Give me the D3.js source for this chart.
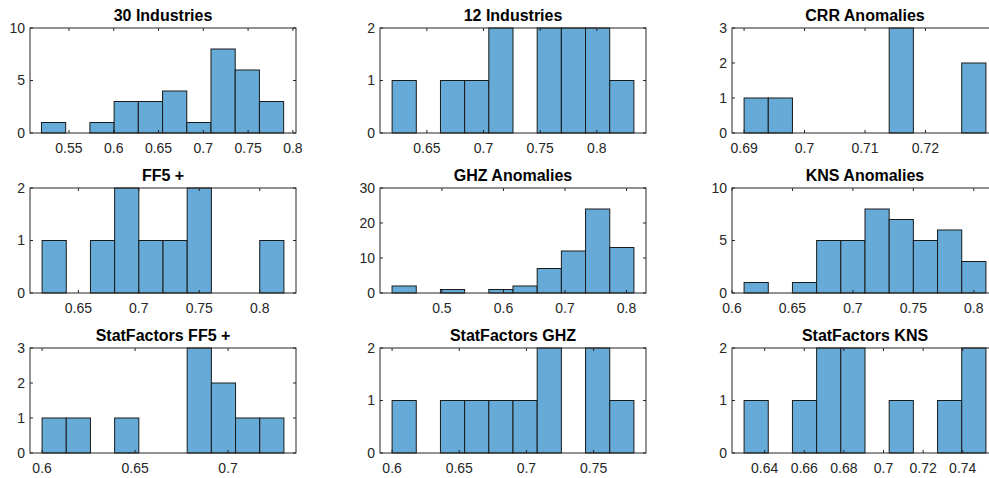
<!DOCTYPE html>
<html>
<head>
<meta charset="utf-8">
<script src="https://cdn.jsdelivr.net/npm/d3@7"></script>
<style>
  body { margin: 0; background: #fff; }
  svg { display: block; }
</style>
</head>
<body>
<script>
// panel data, row by row
var titles = ["30 Industries", "12 Industries", "CRR Anomalies",
              "FF5 +", "GHZ Anomalies", "KNS Anomalies",
              "StatFactors FF5 +", "StatFactors GHZ", "StatFactors KNS"];

// first bin edge and bin width of each histogram
var binStarts = [0.5193, 0.6193, 0.690, 0.62, 0.419, 0.61, 0.60, 0.60, 0.6296];
var binWidths = [0.02704, 0.02134, 0.004, 0.02, 0.0393, 0.02, 0.013, 0.018, 0.01221];

var counts = [
    [1, 0, 1, 3, 3, 4, 1, 8, 6, 3],
    [1, 0, 1, 1, 2, 0, 2, 2, 2, 1],
    [1, 1, 0, 0, 0, 0, 3, 0, 0, 2],
    [1, 0, 1, 2, 1, 1, 2, 0, 0, 1],
    [2, 0, 1, 0, 1, 2, 7, 12, 24, 13],
    [1, 0, 1, 5, 5, 8, 7, 5, 6, 3],
    [1, 1, 0, 1, 0, 0, 3, 2, 1, 1],
    [1, 0, 1, 1, 1, 1, 2, 0, 2, 1],
    [1, 0, 1, 2, 2, 0, 1, 0, 1, 2]
];

var xLimits = [[0.5065, 0.8035], [0.6086, 0.8434], [0.688, 0.732],
               [0.61, 0.83], [0.3994, 0.8316], [0.60, 0.82],
               [0.5935, 0.7365], [0.591, 0.789], [0.6235, 0.7578]];

var xTickVals = [[0.55, 0.6, 0.65, 0.7, 0.75, 0.8],
                 [0.65, 0.7, 0.75, 0.8],
                 [0.69, 0.7, 0.71, 0.72],
                 [0.65, 0.7, 0.75, 0.8],
                 [0.5, 0.6, 0.7, 0.8],
                 [0.6, 0.65, 0.7, 0.75, 0.8],
                 [0.6, 0.65, 0.7],
                 [0.6, 0.65, 0.7, 0.75],
                 [0.64, 0.66, 0.68, 0.7, 0.72, 0.74]];

var yTickVals = [[0, 5, 10], [0, 1, 2], [0, 1, 2, 3],
                 [0, 1, 2], [0, 10, 20, 30], [0, 5, 10],
                 [0, 1, 2, 3], [0, 1, 2], [0, 1, 2]];

// figure layout
var W = 989, H = 478;
var colLeft = [30, 380, 732], rowTop = [28, 188, 348];
var pw = 266, ph = 105;
var axisColor = "#262626", barFill = "#66aad7", tickLen = 3;

var svg = d3.select("body").append("svg")
    .attr("width", W)
    .attr("height", H)
    .style("font-family", "'Liberation Sans', Arial, sans-serif");

svg.append("rect").attr("width", W).attr("height", H).attr("fill", "#fff");

titles.forEach(function(title, p) {
    var left = colLeft[p % 3], top = rowTop[Math.floor(p / 3)];
    var yTicks = yTickVals[p];
    var yMax = yTicks[yTicks.length - 1];

    var x = d3.scaleLinear().domain(xLimits[p]).range([0, pw]);
    var y = d3.scaleLinear().domain([0, yMax]).range([ph, 0]);

    var bins = counts[p].map(function(c, i) {
        var x0 = binStarts[p] + i * binWidths[p];
        return { x0: x0, x1: x0 + binWidths[p], n: c };
    });

    var g = svg.append("g").attr("transform", "translate(" + left + "," + top + ")");

    // bars (empty bins are drawn as a flat line like MATLAB does)
    g.selectAll(".bar")
        .data(bins)
        .enter()
        .append("rect")
        .attr("class", "bar")
        .attr("x", function(d) { return x(d.x0); })
        .attr("y", function(d) { return y(d.n); })
        .attr("width", function(d) { return x(d.x1) - x(d.x0); })
        .attr("height", function(d) { return y(0) - y(d.n); })
        .attr("fill", barFill)
        .attr("stroke", "#1a1a1a")
        .attr("stroke-width", 1)
        .attr("stroke-opacity", function(d) { return d.n > 0 ? 1 : 0; });

    // x ticks, bottom and top, inward
    var xt = xTickVals[p];
    g.selectAll(".xtb").data(xt).enter().append("line")
        .attr("x1", function(d) { return x(d); }).attr("x2", function(d) { return x(d); })
        .attr("y1", ph).attr("y2", ph - tickLen)
        .attr("stroke", axisColor);
    g.selectAll(".xtt").data(xt).enter().append("line")
        .attr("x1", function(d) { return x(d); }).attr("x2", function(d) { return x(d); })
        .attr("y1", 0).attr("y2", tickLen)
        .attr("stroke", axisColor);
    g.selectAll(".xl").data(xt).enter().append("text")
        .attr("x", function(d) { return x(d); })
        .attr("y", ph + 20)
        .attr("text-anchor", "middle")
        .attr("font-size", 14)
        .attr("fill", axisColor)
        .text(function(d) { return String(d); });

    // y ticks, left and right, inward
    g.selectAll(".ytl").data(yTicks).enter().append("line")
        .attr("x1", 0).attr("x2", tickLen)
        .attr("y1", function(d) { return y(d); }).attr("y2", function(d) { return y(d); })
        .attr("stroke", axisColor);
    g.selectAll(".ytr").data(yTicks).enter().append("line")
        .attr("x1", pw).attr("x2", pw - tickLen)
        .attr("y1", function(d) { return y(d); }).attr("y2", function(d) { return y(d); })
        .attr("stroke", axisColor);
    g.selectAll(".yl").data(yTicks).enter().append("text")
        .attr("x", -5)
        .attr("y", function(d) { return y(d); })
        .attr("dy", "0.35em")
        .attr("text-anchor", "end")
        .attr("font-size", 14)
        .attr("fill", axisColor)
        .text(function(d) { return String(d); });

    // axes box
    g.append("rect")
        .attr("x", 0).attr("y", 0)
        .attr("width", pw).attr("height", ph)
        .attr("fill", "none")
        .attr("stroke", axisColor)
        .attr("stroke-width", 1);

    g.append("text")
        .attr("x", pw / 2)
        .attr("y", -7)
        .attr("text-anchor", "middle")
        .attr("font-size", 16)
        .attr("font-weight", "bold")
        .attr("fill", "#000")
        .text(title);
});
</script>
</body>
</html>
